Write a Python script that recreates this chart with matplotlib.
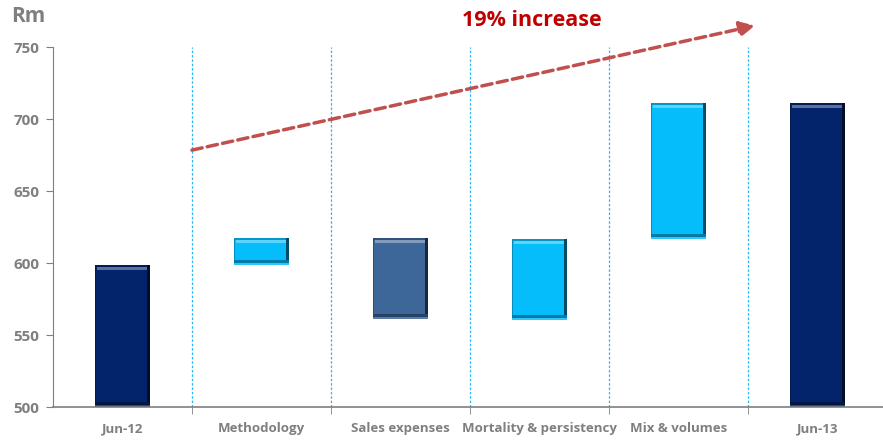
import numpy as np
import matplotlib.pyplot as plt
from matplotlib.colors import to_rgb

# dane (Rm)
categories = ["Jun-12", "Methodology", "Sales expenses", "Mortality & persistency",
              "Mix & volumes", "Jun-13"]
bottoms = [500, 598.5, 561, 560.5, 616.5, 500]
tops    = [598.5, 617.5, 617.5, 616.5, 711.5, 711.5]
colors  = ["#03236a", "#06bdfc", "#3d6799", "#06bdfc", "#06bdfc", "#03236a"]
yticks  = [500, 550, 600, 650, 700, 750]

GREY = "#7f7f7f"
plt.rcParams['font.family'] = ['Open Sans', 'DejaVu Sans']

fig = plt.figure(figsize=(8.83, 4.41), dpi=100)
ax = fig.add_axes([0.060, 0.077, 0.940, 0.816])

x = np.arange(len(categories))
w = 0.40
px = 250 / 360.0   # jednostki danych na piksel


def shade(c, f):
    r = np.array(to_rgb(c))
    if f >= 0:
        return tuple(r + (1 - r) * f)
    return tuple(r * (1 + f))


for i in range(len(categories)):
    b, t, c = bottoms[i], tops[i], colors[i]
    h = t - b
    ax.bar(x[i], h, w, bottom=b, color=c, zorder=3)
    # efekt "bevel": jasny pasek u gory, ciemna krawedz z prawej i na dole
    ax.bar(x[i], 3 * px, w * 0.9, bottom=t - 5 * px, color=shade(c, 0.35), zorder=4)
    ax.bar(x[i], 2 * px, w, bottom=t - 2 * px, color=shade(c, -0.2), zorder=4)
    ax.bar(x[i] + w / 2 - 0.012, h, 0.024, bottom=b, color=shade(c, -0.6), zorder=4)
    ax.bar(x[i] - w / 2 + 0.006, h, 0.012, bottom=b, color=shade(c, -0.25), zorder=4)
    ax.bar(x[i], 3 * px, w, bottom=b + 2 * px, color=shade(c, -0.35), zorder=4)
    ax.bar(x[i], 2 * px, w, bottom=b, color=shade(c, 0.15), zorder=4)

# przerywane pionowe linie miedzy kategoriami
for xb in x[:-1] + 0.5:
    ax.plot([xb, xb], [500, 750], color="#29b6f6", lw=0.9, ls=(0, (2, 1.5)), zorder=2)

ax.set_xlim(-0.5, -0.5 + 830 / 139.0)
ax.set_ylim(500, 750)

ax.set_yticks(yticks)
ax.set_yticklabels([str(v) for v in yticks], color=GREY, fontsize=11, fontweight='bold')
ax.set_xticks(x)
ax.set_xticklabels(categories, color=GREY, fontsize=9.5, fontweight='bold')
ax.tick_params(axis='x', length=0, pad=11)
ax.tick_params(axis='y', length=5, color=GREY, pad=5)
# znaczniki na osi X w granicach kategorii
ax.set_xticks(x[:-1] + 0.5, minor=True)
ax.tick_params(axis='x', which='minor', length=5, direction='out', color=GREY)

for s in ['top', 'right']:
    ax.spines[s].set_visible(False)
ax.spines['left'].set_color(GREY)
ax.spines['bottom'].set_color(GREY)
ax.spines['bottom'].set_linewidth(1.2)
ax.spines['bottom'].set_zorder(5)

# strzalka wzrostu
ax.annotate("", xy=(4.55, 765), xytext=(0.5, 678.5),
            arrowprops=dict(arrowstyle="-|>,head_length=0.9,head_width=0.45",
                            color="#c0504d", lw=2.5, ls=(0, (3, 1.5)),
                            shrinkA=0, shrinkB=0),
            annotation_clip=False, zorder=6)
ax.text(532 / 883, 1 - 20 / 441, "19% increase", transform=fig.transFigure,
        ha='center', va='center', color="#c00000", fontsize=15.5, fontweight='bold')

fig.text(11 / 883, 1 - 17 / 441, "Rm", ha='left', va='center', color=GREY,
         fontsize=15, fontweight='bold')

fig.savefig("out.png", dpi=100)
